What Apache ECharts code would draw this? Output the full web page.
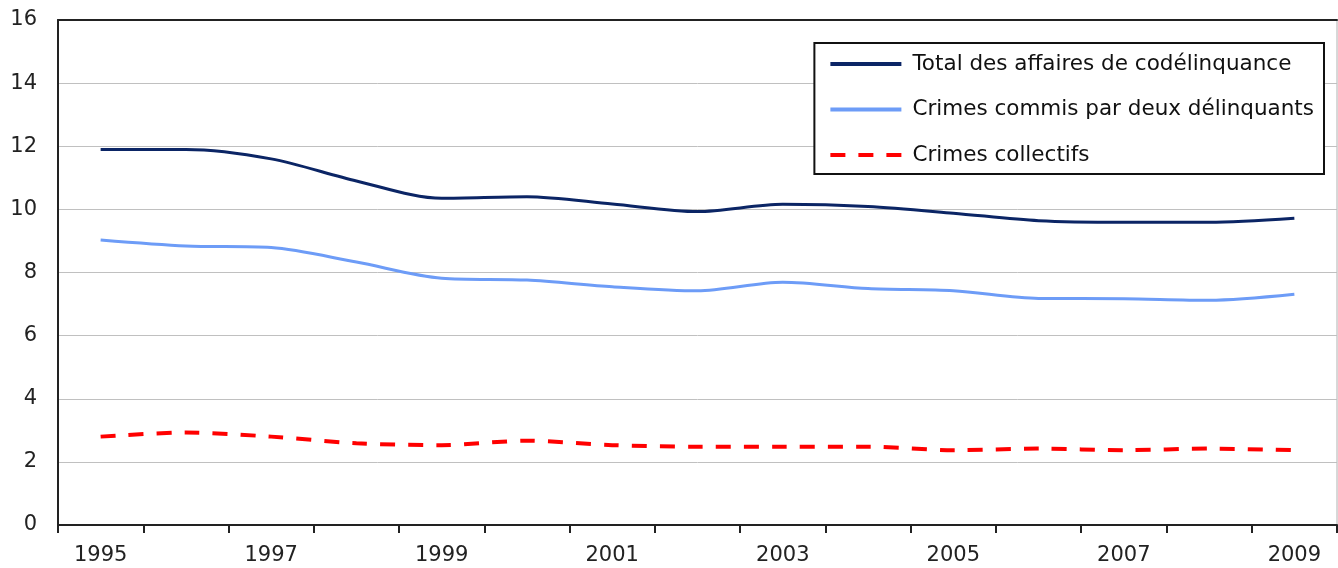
<!DOCTYPE html>
<html>
<head>
<meta charset="utf-8">
<script src="https://cdn.jsdelivr.net/npm/echarts@6/dist/echarts.min.js"></script>
<style>
  html, body { margin: 0; padding: 0; background: #fff; }
  #chart { width: 1338px; height: 568px; }
</style>
</head>
<body>
<div id="chart"></div>
<script>
// années
var years = ['1995', '1996', '1997', '1998', '1999', '2000', '2001', '2002',
  '2003', '2004', '2005', '2006', '2007', '2008', '2009']

// séries
var totalCodelinquance = [11.9, 11.9, 11.6, 10.9, 10.35, 10.4, 10.17, 9.93, 10.16, 10.09, 9.88, 9.64, 9.59, 9.59, 9.72]
var crimesDeux = [9.03, 8.84, 8.79, 8.33, 7.82, 7.76, 7.55, 7.42, 7.69, 7.49, 7.42, 7.18, 7.17, 7.12, 7.31]
var crimesCollectifs = [2.8, 2.93, 2.8, 2.59, 2.53, 2.67, 2.53, 2.48, 2.48, 2.48, 2.37, 2.42, 2.37, 2.42, 2.37]

var seriesNames = ['Total des affaires de codélinquance', 'Crimes commis par deux délinquants', 'Crimes collectifs']

var font = 'DejaVu Sans'

var chart = echarts.init(document.getElementById('chart'))

var option = {
  animation: false,
  grid: {
    left: 58,
    right: 1,
    top: 20,
    bottom: 43,
    show: true,
    borderColor: '#b0b0b0',
    borderWidth: 1
  },
  legend: {
    orient: 'vertical',
    right: 14,
    top: 43,
    itemWidth: 71,
    itemHeight: 4,
    itemGap: 23.5,
    padding: [10, 10, 8, 14],
    borderColor: '#111',
    borderWidth: 2,
    borderRadius: 0,
    backgroundColor: '#fff',
    data: seriesNames,
    itemStyle: { opacity: 0 },
    lineStyle: { width: 4 },
    textStyle: {
      fontFamily: font,
      fontSize: 21.5,
      color: '#111',
      padding: [0, 0, 0, 6]
    }
  },
  xAxis: [
    {
      type: 'category',
      data: years,
      boundaryGap: true,
      axisLine: { lineStyle: { color: '#222', width: 2 } },
      axisTick: { show: true, interval: 0, length: 8, lineStyle: { color: '#222', width: 2 } },
      axisLabel: {
        interval: 1,
        margin: 20,
        fontFamily: font,
        fontSize: 21,
        color: '#222'
      },
      splitLine: { show: false }
    },
    {
      // bordure haute du tracé
      type: 'category',
      position: 'top',
      data: years,
      axisLine: { lineStyle: { color: '#222', width: 2 } },
      axisTick: { show: false },
      axisLabel: { show: false }
    }
  ],
  yAxis: {
    type: 'value',
    min: 0,
    max: 16,
    interval: 2,
    axisLine: { show: true, lineStyle: { color: '#222', width: 2 } },
    axisTick: { show: false },
    axisLabel: {
      margin: 21,
      fontFamily: font,
      fontSize: 21,
      color: '#222'
    },
    splitLine: { lineStyle: { color: '#c0c0c0', width: 1 } }
  },
  series: [
    {
      name: seriesNames[0],
      type: 'line',
      data: totalCodelinquance,
      smooth: 0.3,
      symbol: 'none',
      lineStyle: { color: '#0b2565', width: 3 },
      itemStyle: { color: '#0b2565' }
    },
    {
      name: seriesNames[1],
      type: 'line',
      data: crimesDeux,
      smooth: 0.3,
      symbol: 'none',
      lineStyle: { color: '#6d9cf7', width: 3 },
      itemStyle: { color: '#6d9cf7' }
    },
    {
      name: seriesNames[2],
      type: 'line',
      data: crimesCollectifs,
      smooth: 0.3,
      symbol: 'none',
      lineStyle: { color: '#ff0000', width: 4, type: [15, 13] },
      itemStyle: { color: '#ff0000' }
    }
  ]
}

chart.setOption(option)
</script>
</body>
</html>
